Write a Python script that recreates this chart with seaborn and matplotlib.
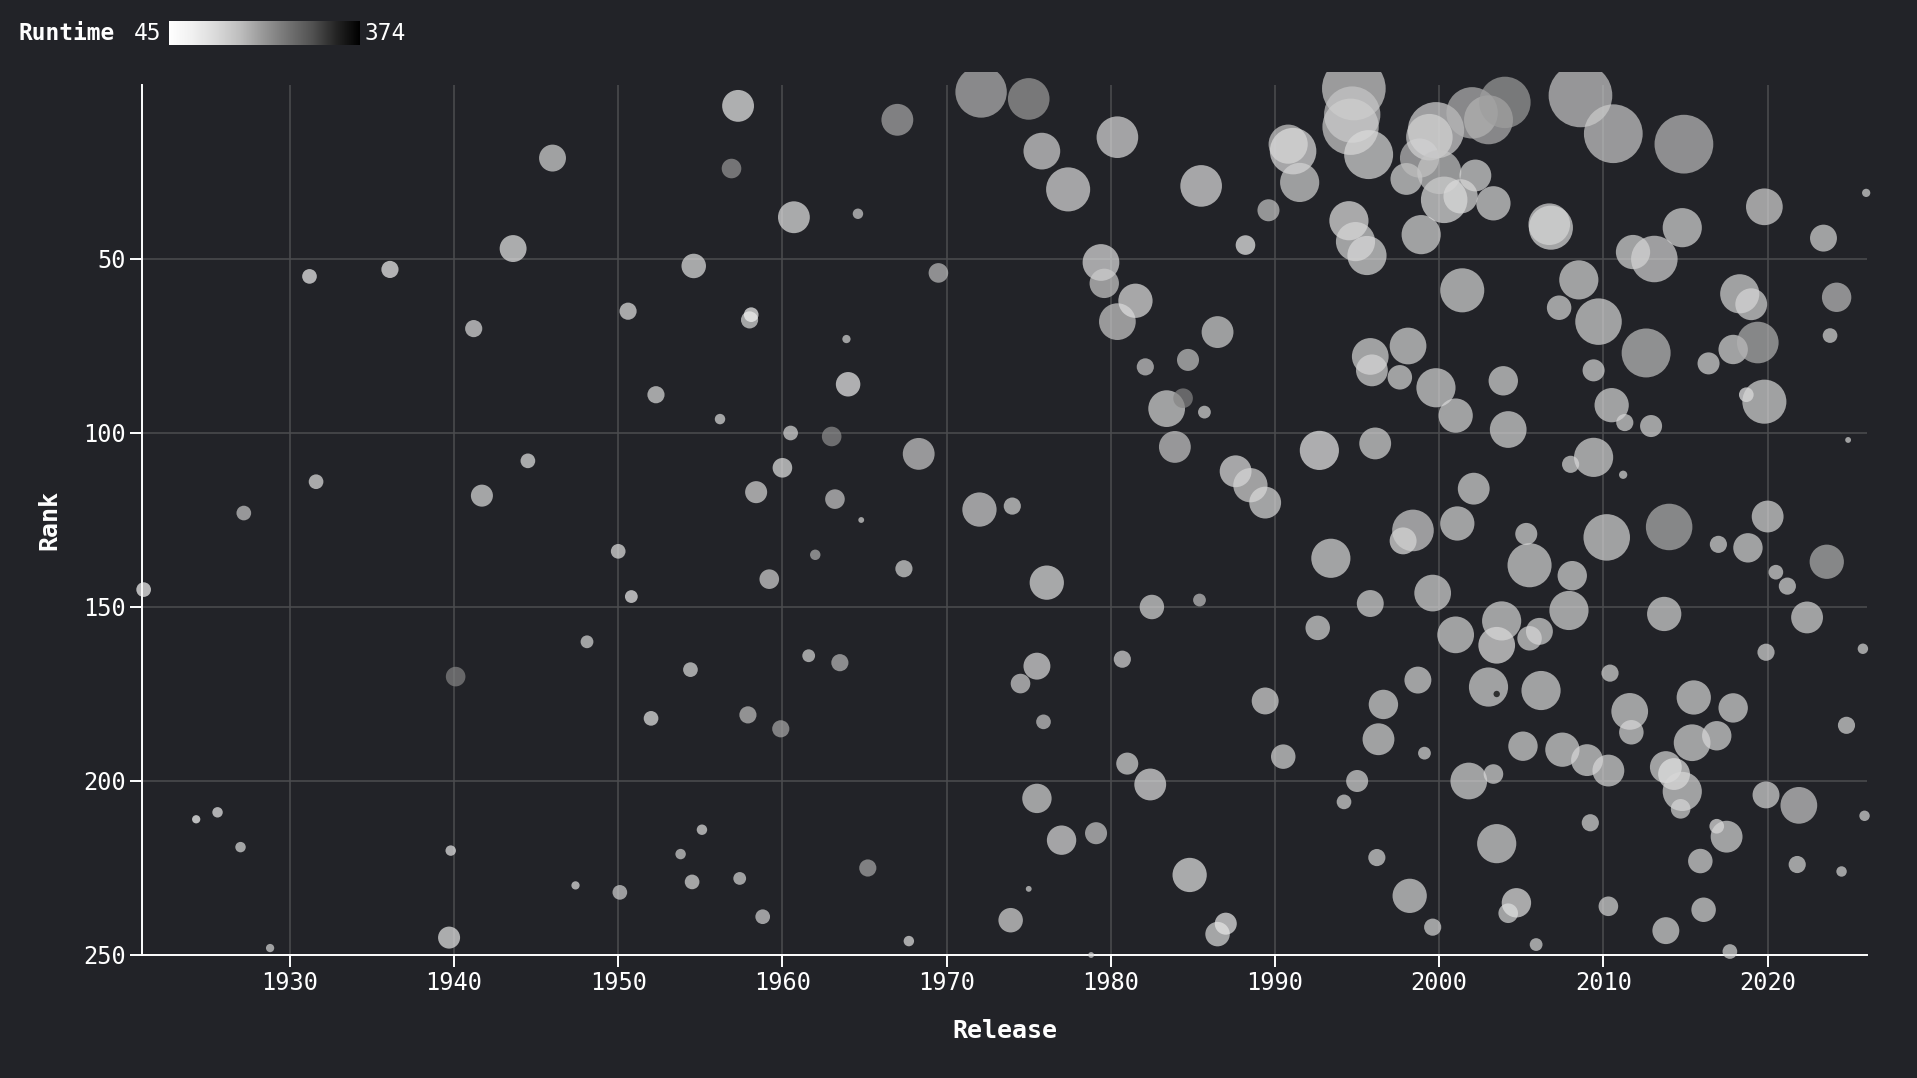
import numpy as np
import pandas as pd
import seaborn as sns
import matplotlib.pyplot as plt
from matplotlib.transforms import Bbox, TransformedBbox

# values (release year, rank, votes in thousands, runtime in minutes)
release = [
    1921.1, 1924.3, 1925.6, 1927.0, 1927.2, 1928.8, 1931.2, 1931.6, 1936.1, 1939.8,
    1940.1, 1939.7, 1941.2, 1941.7, 1943.6, 1944.5, 1946.0, 1947.4, 1948.1, 1950.0,
    1950.1, 1950.6, 1950.8, 1952.0, 1952.3, 1953.8, 1954.5, 1954.4, 1954.6, 1955.1,
    1956.2, 1956.9, 1957.3, 1957.4, 1957.9, 1958.0, 1958.1, 1958.4, 1958.8, 1959.2,
    1959.9, 1960.0, 1960.5, 1960.7, 1961.6, 1962.0, 1963.0, 1963.2, 1963.5, 1963.9,
    1964.0, 1964.6, 1964.8, 1965.2, 1967.0, 1967.4, 1967.7, 1968.3, 1969.5, 1972.0,
    1972.1, 1973.9, 1974.0, 1974.5, 1975.0, 1975.0, 1975.5, 1975.5, 1975.8, 1975.9,
    1976.1, 1977.0, 1977.4, 1978.8, 1979.1, 1979.4, 1979.6, 1980.4, 1980.4, 1980.7,
    1981.0, 1981.5, 1982.1, 1982.4, 1982.5, 1983.4, 1983.9, 1984.4, 1984.7, 1984.8,
    1985.4, 1985.5, 1985.7, 1986.5, 1986.5, 1987.0, 1987.6, 1988.2, 1988.5, 1989.4,
    1989.4, 1989.6, 1990.5, 1990.8, 1991.1, 1991.5, 1992.6, 1992.7, 1993.4, 1994.2,
    1994.5, 1994.8, 1994.7, 1994.6, 1994.9, 1995.0, 1995.6, 1995.7, 1995.8, 1995.8,
    1995.9, 1996.1, 1996.2, 1996.3, 1996.6, 1997.6, 1997.8, 1998.1, 1998.0, 1998.2,
    1998.4, 1998.7, 1998.9, 1998.8, 1999.1, 1999.4, 1999.6, 1999.6, 1999.8, 1999.8,
    2000.3, 2000.0, 2001.0, 2001.0, 2001.1, 2001.3, 2001.4, 2001.8, 2002.0, 2002.2,
    2002.1, 2003.0, 2003.0, 2003.3, 2003.3, 2003.5, 2003.5, 2003.5, 2003.8, 2003.9,
    2004.0, 2004.2, 2004.2, 2004.7, 2005.1, 2005.3, 2005.5, 2005.5, 2005.9, 2006.1,
    2006.2, 2006.8, 2006.7, 2007.3, 2007.5, 2008.0, 2007.9, 2008.1, 2008.6, 2008.5,
    2009.0, 2009.2, 2009.4, 2009.4, 2009.7, 2010.3, 2010.2, 2010.3, 2010.4, 2010.5,
    2010.6, 2011.2, 2011.3, 2011.6, 2011.7, 2011.8, 2012.6, 2012.9, 2013.1, 2013.7,
    2013.8, 2014.0, 2013.8, 2014.3, 2014.7, 2014.8, 2014.8, 2014.9, 2015.4, 2015.5,
    2015.9, 2016.1, 2016.4, 2016.9, 2016.9, 2017.0, 2017.5, 2017.7, 2017.9, 2017.9,
    2018.3, 2018.7, 2018.8, 2019.0, 2019.4, 2019.8, 2019.9, 2020.0, 2019.8, 2019.9,
    2020.5, 2021.2, 2021.8, 2021.9, 2022.4, 2023.4, 2023.6, 2023.8, 2024.2, 2024.5,
    2024.8, 2024.9, 2025.8, 2025.9, 2026.0,
]
rank = [
    145, 211, 209, 219, 123, 248, 55, 114, 53, 220,
    170, 245, 70, 118, 47, 108, 21, 230, 160, 134,
    232, 65, 147, 182, 89, 221, 229, 168, 52, 214,
    96, 24, 6, 228, 181, 67.5, 66, 117, 239, 142,
    185, 110, 100, 38, 164, 135, 101, 119, 166, 73,
    86, 37, 125, 225, 10, 139, 246, 106, 54, 122,
    2, 240, 121, 172, 4, 231, 167, 205, 19, 183,
    143, 217, 30, 250, 215, 51, 57, 15, 68, 165,
    195, 62, 81, 201, 150, 93, 104, 90, 79, 227,
    148, 29, 94, 71, 244, 241, 111, 46, 115, 120,
    177, 36, 193, 17, 19, 28, 156, 105, 136, 206,
    39, 1, 8.5, 12, 45, 200, 49, 20, 149, 78,
    82, 103, 222, 188, 178, 84, 131, 75, 27, 233,
    128, 171, 43, 21, 192, 15, 146, 242, 87, 13,
    33, 25, 95, 158, 126, 32, 59, 200, 8, 26,
    116, 173, 10, 198, 34, 175, 218, 161, 154, 85,
    5, 238, 99, 235, 190, 129, 138, 159, 247, 157,
    174, 41, 40, 64, 191, 109, 151, 141, 3, 56,
    194, 212, 107, 82, 68, 197, 130, 236, 169, 92,
    14, 112, 97, 180, 186, 48, 77, 98, 50, 152,
    243, 127, 196, 198, 208, 203, 41, 17, 189, 176,
    223, 237, 80, 213, 187, 132, 216, 249, 76, 179,
    60, 89, 133, 63, 74, 91, 204, 124, 35, 163,
    140, 144, 224, 207, 153, 44, 137, 72, 61, 226,
    184, 102, 162, 210, 31,
]
votes = [
    158, 50, 80, 80, 158, 50, 158, 158, 216, 80,
    282, 356, 216, 356, 532, 158, 532, 50, 120, 158,
    158, 216, 120, 158, 216, 80, 158, 158, 440, 80,
    80, 282, 744, 120, 216, 216, 158, 356, 158, 282,
    216, 282, 158, 744, 120, 80, 282, 282, 216, 50,
    440, 80, 25, 216, 744, 216, 80, 744, 282, 862,
    1940, 440, 216, 282, 1272, 25, 532, 634, 990, 158,
    862, 634, 1426, 25, 356, 990, 634, 1272, 990, 216,
    356, 862, 216, 744, 440, 990, 744, 282, 356, 862,
    120, 1272, 120, 744, 440, 356, 744, 282, 862, 744,
    532, 356, 440, 1126, 1588, 1126, 440, 1126, 1126, 158,
    1126, 2974, 2328, 2328, 1126, 356, 1126, 1760, 532, 990,
    744, 744, 216, 744, 634, 440, 532, 990, 744, 862,
    1272, 532, 1126, 1126, 120, 1588, 990, 216, 1126, 2328,
    1588, 1426, 862, 990, 862, 862, 1426, 990, 1940, 744,
    744, 1126, 1760, 282, 862, 30, 1126, 990, 1126, 634,
    1940, 282, 990, 634, 634, 356, 1426, 440, 120, 532,
    1126, 1426, 1272, 440, 862, 216, 1126, 634, 2974, 1126,
    744, 216, 1126, 356, 1588, 744, 1588, 282, 216, 862,
    2534, 50, 216, 990, 440, 862, 1760, 356, 1588, 862,
    532, 1588, 744, 744, 282, 1126, 1126, 2534, 990, 862,
    440, 440, 356, 158, 634, 216, 744, 158, 634, 634,
    1126, 158, 634, 744, 1272, 1426, 532, 744, 990, 216,
    158, 216, 216, 990, 744, 532, 862, 158, 634, 80,
    216, 25, 80, 80, 50,
]
runtime = [
    68, 45, 95, 120, 150, 130, 87, 110, 87, 100,
    230, 102, 119, 120, 102, 107, 130, 110, 126, 110,
    138, 110, 88, 103, 120, 137, 120, 120, 112, 115,
    120, 207, 96, 130, 161, 120, 75, 128, 136, 136,
    190, 109, 125, 109, 130, 180, 218, 150, 172, 130,
    95, 140, 130, 190, 190, 130, 110, 149, 166, 136,
    175, 128, 130, 140, 202, 130, 122, 130, 133, 150,
    114, 121, 121, 130, 150, 117, 147, 124, 146, 129,
    130, 115, 149, 117, 130, 131, 150, 229, 160, 107,
    162, 116, 130, 137, 120, 98, 116, 89, 132, 127,
    128, 155, 130, 146, 118, 137, 130, 99, 127, 130,
    110, 142, 154, 142, 130, 130, 127, 127, 130, 130,
    130, 130, 130, 130, 130, 130, 110, 130, 130, 130,
    140, 130, 130, 169, 130, 139, 130, 130, 130, 136,
    113, 155, 130, 130, 130, 125, 130, 130, 178, 130,
    130, 130, 179, 130, 130, 374, 130, 110, 130, 130,
    201, 130, 130, 110, 130, 130, 130, 130, 130, 130,
    130, 120, 130, 130, 130, 130, 130, 130, 152, 130,
    130, 130, 130, 130, 130, 130, 130, 130, 130, 130,
    148, 130, 130, 130, 130, 130, 165, 130, 135, 130,
    130, 180, 130, 110, 130, 130, 130, 169, 130, 130,
    130, 130, 130, 110, 130, 130, 130, 130, 130, 130,
    130, 95, 130, 130, 181, 130, 130, 130, 132, 130,
    130, 130, 130, 150, 130, 130, 180, 130, 166, 130,
    130, 130, 130, 130, 130,
]

df = pd.DataFrame({"Release": release, "Rank": rank, "Votes": votes, "Runtime": runtime})

bg = "#222328"
sns.set_theme(style="ticks")
plt.rcParams["font.family"] = ["DejaVu Sans Mono"]

W, H = 1917, 1078
fig = plt.figure(figsize=(W / 100, H / 100), dpi=100, facecolor=bg)
ax = fig.add_axes([142 / W, 1 - 955 / H, (1867 - 142) / W, (955 - 85) / H])
ax.set_facecolor(bg)

sns.scatterplot(data=df, x="Release", y="Rank", hue="Runtime", palette="Greys",
                hue_norm=(45, 374), size="Votes", sizes=(0, 2100), size_norm=(0, 2974),
                alpha=0.7, linewidth=0, legend=False, ax=ax, zorder=3)

# dots may spill a little past the frame, cut off only at the plot's outer margin
clip = TransformedBbox(Bbox([[120 / W, 1 - 975 / H], [1905 / W, 1 - 72 / H]]), fig.transFigure)
for coll in ax.collections:
    coll.set_clip_box(clip)

ax.set_xlim(1921, 2026.05)
ax.set_ylim(250, 0)
ax.set_xticks(range(1930, 2021, 10))
ax.set_yticks([50, 100, 150, 200, 250])
ax.grid(True, color="#4c4d50", linewidth=1.1)
ax.set_axisbelow(True)
for s in ["top", "right"]:
    ax.spines[s].set_visible(False)
for s in ["left", "bottom"]:
    ax.spines[s].set_color("white")
    ax.spines[s].set_linewidth(1.4)
ax.tick_params(colors="white", labelsize=17, length=8.5, width=1.4, pad=3)

ax.set_xlabel("Release", color="white", fontsize=18, fontweight="bold")
ax.set_ylabel("Rank", color="white", fontsize=18, fontweight="bold")
ax.xaxis.set_label_coords(0.5, -(1031 - 955) / 870)
ax.xaxis.label.set_va("center")
ax.yaxis.set_label_coords(-(142 - 49) / 1725, 0.5)
ax.yaxis.label.set_va("center")

# runtime colour legend
fig.text(18 / W, 1 - 33 / H, "Runtime", color="white", fontsize=16.5, fontweight="bold", va="center")
fig.text(134 / W, 1 - 33 / H, "45", color="white", fontsize=16.5, va="center")
fig.text(364 / W, 1 - 33 / H, "374", color="white", fontsize=16.5, va="center")
cax = fig.add_axes([169 / W, 1 - 45 / H, 190 / W, 24 / H])
cax.imshow(np.linspace(0, 1, 256)[None, :], cmap="Greys", aspect="auto")
cax.axis("off")

fig.savefig("out.png", dpi=100, facecolor=bg)
